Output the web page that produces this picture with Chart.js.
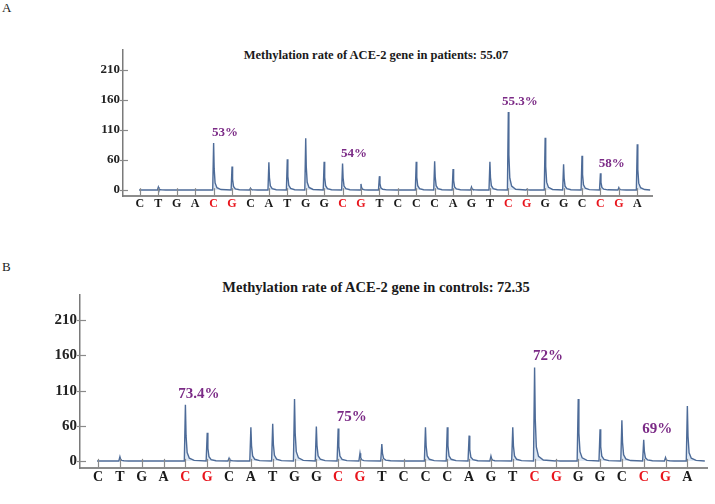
<!DOCTYPE html>
<html>
<head>
<meta charset="utf-8">
<script src="https://cdn.jsdelivr.net/npm/chart.js@4/dist/chart.umd.min.js"></script>
<style>
  body { margin: 0; background: #fff; }
  #wrap { position: relative; width: 715px; height: 504px; overflow: hidden; font-family: "Liberation Serif", serif; }
  canvas { position: absolute; left: 0; }
  .panel { position: absolute; left: 2px; font-size: 13px; color: #222; }
  .title { position: absolute; transform: translate(-50%, -50%); white-space: nowrap; font-weight: bold; color: #1a1a1a; }
</style>
</head>
<body>
<div id="wrap">
  <div class="panel" style="top:0px">A</div>
  <div class="title" style="left:376px; top:55px; font-size:12.5px">Methylation rate of ACE-2 gene in patients: 55.07</div>
  <canvas id="chartA" style="top:0px"></canvas>

  <div class="panel" style="top:259px">B</div>
  <div class="title" style="left:376px; top:287px; font-size:14.5px">Methylation rate of ACE-2 gene in controls: 72.35</div>
  <canvas id="chartB" style="top:250px"></canvas>
</div>
<script>
// 디스펜세이션 순서 (dispensation order)
var bases = ['C','T','G','A','C','G','C','A','T','G','G','C','G','T','C','C','C','A','G','T','C','G','G','G','C','C','G','A'];
var cpgIndex = [4, 5, 11, 12, 20, 21, 25, 26];

// y축 눈금 (원본 그림의 라벨 그대로)
var yTickValues = [10, 60, 110, 160, 210];
var yTickLabels = ['0', '60', '110', '160', '210'];
var baseline = 10;

// 피크 높이 - 환자군
var patientPeaks = [10, 15, 10, 10, 88, 49, 13, 56, 61, 96, 57, 54, 20, 33,
                    10, 57, 58, 45, 15, 57, 140, 11, 97, 53, 67, 38, 14, 86];
// 피크 높이 - 대조군
var controlPeaks = [10, 16, 10, 10, 90, 50, 14, 58, 63, 98, 59, 56, 21, 34,
                    10, 58, 58, 46, 17, 58, 143, 11, 98, 55, 68, 40, 15, 88];

// 메틸화 비율 라벨
var siteIndex = [4, 11, 20, 25];
var patientRates = ['53%', '54%', '55.3%', '58%'];
var controlRates = ['73.4%', '75%', '72%', '69%'];

// 피크 모양 (빠른 상승, 지수형 감쇠)
function buildTrace(peaks, xEnd) {
  var pts = [];
  peaks.forEach(function(h, i) {
    var d = h - baseline;
    pts.push({x: i - 0.05, y: baseline});
    pts.push({x: i, y: h});
    pts.push({x: i + 0.03, y: baseline + d * 0.45});
    pts.push({x: i + 0.08, y: baseline + d * 0.15});
    pts.push({x: i + 0.18, y: baseline + d * 0.05});
    pts.push({x: i + 0.4, y: baseline + d * 0.01});
  });
  pts.push({x: xEnd, y: baseline});
  return pts;
}

var pyroPlugin = {
  id: 'pyro',
  afterDatasetsDraw: function(chart, args, o) {
    var ctx = chart.ctx, xs = chart.scales.x, ys = chart.scales.y;
    ctx.save();
    // 염기 위치 눈금
    ctx.strokeStyle = '#8a8a8a';
    ctx.lineWidth = 1.2;
    bases.forEach(function(b, i) {
      var px = Math.round(xs.getPixelForValue(i)) + 0.5;
      ctx.beginPath();
      ctx.moveTo(px, ys.getPixelForValue(0));
      ctx.lineTo(px, ys.getPixelForValue(baseline + 3));
      ctx.stroke();
    });
    // y축 눈금
    yTickValues.forEach(function(v) {
      var py = Math.round(ys.getPixelForValue(v)) + 0.5;
      ctx.beginPath();
      ctx.moveTo(xs.left - 3, py);
      ctx.lineTo(xs.left + o.tick, py);
      ctx.stroke();
    });
    // 메틸화 비율
    ctx.fillStyle = '#7b2a86';
    ctx.font = 'bold ' + o.rateSize + 'px "Liberation Serif"';
    ctx.textAlign = 'center';
    ctx.textBaseline = 'middle';
    siteIndex.forEach(function(si, k) {
      var px = xs.getPixelForValue(si + 0.62);
      var py = ys.getPixelForValue(o.peaks[si]) - o.rateGap;
      ctx.fillText(o.rates[k], px, py);
    });
    ctx.restore();
  }
};

function makeChart(id, w, h, peaks, rates, cfg) {
  var el = document.getElementById(id);
  el.width = w; el.height = h;
  el.style.width = w + 'px'; el.style.height = h + 'px';
  return new Chart(el.getContext('2d'), {
    type: 'line',
    data: {
      datasets: [{
        data: buildTrace(peaks, cfg.xMax - 0.1),
        borderColor: '#4d6b98',
        borderWidth: 1.4,
        pointRadius: 0,
        tension: 0,
        fill: {value: baseline},
        backgroundColor: 'rgba(170,196,226,0.4)'
      }]
    },
    options: {
      responsive: false,
      animation: false,
      events: [],
      layout: { padding: cfg.padding },
      plugins: {
        legend: { display: false },
        tooltip: { enabled: false },
        pyro: { peaks: peaks, rates: rates, rateSize: cfg.rateSize, rateGap: cfg.rateGap, tick: cfg.tick }
      },
      scales: {
        x: {
          type: 'linear',
          min: cfg.xMin, max: cfg.xMax,
          afterBuildTicks: function(s) { s.ticks = bases.map(function(b, i) { return {value: i}; }); },
          afterFit: function(s) { s.height = 30; },
          grid: { display: false, drawTicks: false },
          border: { display: true, color: '#8c8c8c', width: 2 },
          ticks: {
            autoSkip: false, maxRotation: 0, padding: 1,
            font: { family: 'Liberation Serif', weight: 'bold', size: cfg.letterSize },
            color: function(c) { return cpgIndex.indexOf(c.tick.value) >= 0 ? '#e8141c' : '#1a1a1a'; },
            callback: function(v) { return bases[v]; }
          }
        },
        y: {
          min: 0, max: cfg.yMax,
          afterBuildTicks: function(s) { s.ticks = yTickValues.map(function(v) { return {value: v}; }); },
          afterFit: function(s) { s.width = 40; },
          grid: { display: false, drawTicks: false },
          border: { display: true, color: '#7a7a7a', width: 1.5 },
          ticks: {
            padding: 3,
            font: { family: 'Liberation Serif', weight: 'bold', size: cfg.tickSize },
            color: '#222',
            callback: function(v) { return yTickLabels[yTickValues.indexOf(v)]; }
          }
        }
      }
    },
    plugins: [pyroPlugin]
  });
}

makeChart('chartA', 715, 250, patientPeaks, patientRates, {
  padding: {left: 83, top: 50, right: 63, bottom: 24},
  xMin: -0.92, xMax: 27.8, yMax: 243,
  letterSize: 12, tickSize: 13, rateSize: 13, rateGap: 10, tick: 5
});
makeChart('chartB', 715, 254, controlPeaks, controlRates, {
  padding: {left: 40, top: 45, right: 8, bottom: 6},
  xMin: -0.83, xMax: 27.9, yMax: 246,
  letterSize: 14, tickSize: 15, rateSize: 15, rateGap: 11, tick: 6
});
</script>
</body>
</html>
